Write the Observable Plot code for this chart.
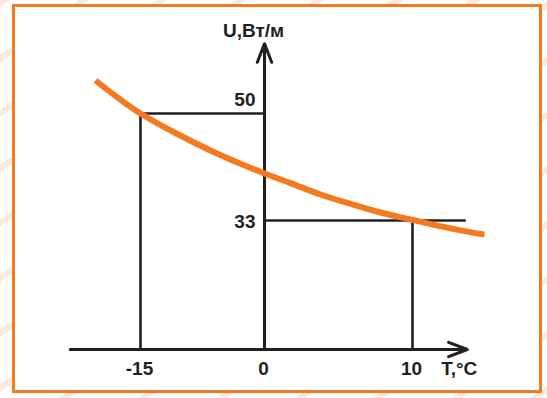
<!DOCTYPE html>
<html>
<head>
<meta charset="utf-8">
<script src="https://cdn.jsdelivr.net/npm/d3@7"></script>
<script src="https://cdn.jsdelivr.net/npm/@observablehq/plot@0.6"></script>
<style>
  html, body { margin: 0; padding: 0; overflow: hidden; background: #fff; }
  #wrap {
    position: relative; width: 547px; height: 398px;
    background: repeating-linear-gradient(145deg, #fde9da 0px, #fde9da 6px, #ffffff 6px, #ffffff 45px);
  }
  #box {
    position: absolute; left: 12px; top: 4px; width: 524px; height: 383px;
    border: 3px solid #f47920; background: #ffffff;
  }
  #chart { position: absolute; left: 0; top: 0; }
</style>
</head>
<body>
<div id="wrap"><div id="box"></div><div id="chart"></div></div>
<script>
// Schematic axes: key temperatures and power values
const xTicks = [-15, 0, 10];
const yTicks = [50, 33];
const xAxisLabel = "T,°C";
const yAxisLabel = "U,Вт/м";
const xAxisExtent = [-23.5, 13.7];
const yAxisExtent = [0, 61.1];
const guideEnd33 = 13.6;

// Power curve U(T)
const curveT = [-20.44, -17.66, -15, -10.77, -6.53, -2.9, 0, 1.76, 3.78, 5.81, 7.84, 10, 12.57, 14.86];
const curveU = [55.24, 52.43, 50, 46.9, 44.12, 42.01, 40.47, 38.94, 37.13, 35.64, 34.27, 33.1, 31.0, 29.4];

const ink = "#231f20";
const orange = "#f47920";
const font = "Liberation Sans, Arial, sans-serif";

const curve = curveT.map((t, i) => ({t, u: curveU[i]}));

// guide lines: (-15,50) and (10,33)
const guides = [
  {x1: xTicks[0], y1: 0, x2: xTicks[0], y2: yTicks[0]},
  {x1: xTicks[0], y1: yTicks[0], x2: xTicks[1], y2: yTicks[0]},
  {x1: xTicks[2], y1: 0, x2: xTicks[2], y2: yTicks[1]},
  {x1: xTicks[1], y1: yTicks[1], x2: guideEnd33, y2: yTicks[1]}
];
const axes = [
  {x1: xAxisExtent[0], y1: 0, x2: xAxisExtent[1], y2: 0},
  {x1: 0, y1: yAxisExtent[0], x2: 0, y2: yAxisExtent[1]}
];

const textOpts = {fontFamily: font, fontWeight: "bold", fontSize: 19, fill: ink};

const chart = Plot.plot({
  width: 547,
  height: 398,
  margin: 0,
  x: {type: "linear", domain: [-15, 0, 10], range: [140, 264, 412], axis: null},
  y: {type: "linear", domain: [0, 33, 50], range: [349, 220, 113], axis: null},
  style: {background: "transparent", overflow: "visible"},
  marks: [
    Plot.link(guides, {x1: "x1", y1: "y1", x2: "x2", y2: "y2", stroke: ink, strokeWidth: 2.6}),
    Plot.arrow(axes, {x1: "x1", y1: "y1", x2: "x2", y2: "y2", stroke: ink, strokeWidth: 3, headLength: 10, headAngle: 42}),
    Plot.line(curve, {x: "t", y: "u", stroke: orange, strokeWidth: 6, strokeLinecap: "butt", curve: "catmull-rom"}),
    Plot.text(xTicks, {x: d => d, y: 0, text: d => String(d), dy: 19, dx: -1, textAnchor: "middle", ...textOpts}),
    Plot.text([yTicks[0]], {x: 0, y: d => d, text: d => String(d), dx: -9, dy: -14, textAnchor: "end", ...textOpts}),
    Plot.text([yTicks[1]], {x: 0, y: d => d, text: d => String(d), dx: -9, dy: 1, textAnchor: "end", ...textOpts}),
    Plot.text([xAxisLabel], {x: xAxisExtent[1], y: 0, text: d => d, dx: 10, dy: 19, textAnchor: "end", ...textOpts}),
    Plot.text([yAxisLabel], {x: 0, y: yAxisExtent[1], text: d => d, dx: -11, dy: -13, textAnchor: "middle", ...textOpts})
  ]
});
document.getElementById("chart").appendChild(chart);
</script>
</body>
</html>
